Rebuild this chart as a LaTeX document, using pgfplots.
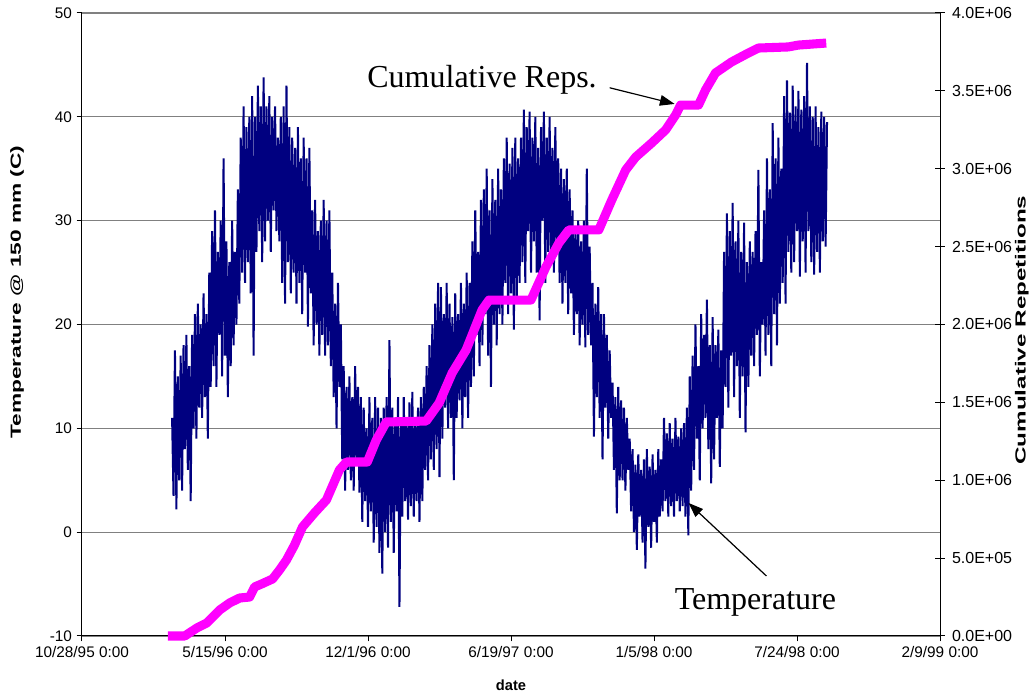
\documentclass[border=0pt]{standalone}
\usepackage{pgfplots}
\pgfplotsset{compat=1.18}
\usepackage{fontspec}
\setmainfont{Liberation Serif}
\setsansfont{Liberation Sans}
\usetikzlibrary{arrows.meta}
\definecolor{navyline}{RGB}{0,0,128}
\definecolor{repmag}{RGB}{255,0,255}
\definecolor{gridgray}{RGB}{128,128,128}
\begin{document}
\begin{tikzpicture}
\path[use as bounding box] (-61.5pt,-46.5pt) rectangle (715.5pt,477pt);
\begin{axis}[
  scale only axis, width=643.5pt, height=467.25pt,
  at={(0,0)}, anchor=south west,
  xmin=0, xmax=1200, ymin=-10, ymax=50,
  axis x line*=bottom, axis y line*=left,
  axis line style={black, line width=0.75pt},
  xtick={0,200,400,600,800,1000,1200},
  xticklabels={10/28/95 0:00,5/15/96 0:00,12/1/96 0:00,6/19/97 0:00,1/5/98 0:00,7/24/98 0:00,2/9/99 0:00},
  ytick={-10,0,10,20,30,40,50},
  yticklabels={-10,0,10,20,30,40,50},
  ymajorgrids, grid style={gridgray, line width=0.9pt},
  tick align=outside, major tick length=4pt,
  tick style={black, line width=0.75pt},
  ticklabel style={font=\sffamily\fontsize{11.5}{13}\selectfont},
  xlabel={date},
  xlabel style={font=\sffamily\bfseries\fontsize{11}{13}\selectfont, at={(axis description cs:0.5,-0.0787)}, anchor=center},
  ylabel={\scalebox{1.55}[1]{Temperature @ 150 mm (C)}},
  ylabel style={font=\sffamily\bfseries\fontsize{11}{13}\selectfont, at={(axis description cs:-0.0756,0.552)}, anchor=center},
]
\addplot[navyline, line width=1.5pt, line join=miter, miter limit=2] coordinates {
(126,11)(128,3.5)(130,17.5)(132,2.2)(134,15)(136,5)(138,17)
(140,4)(142,18)(144,8)(146,19)(148,6)(150,16)(152,3)
(154,19)(156,10)(158,21)(160,9)(162,22)(164,12)(166,20)
(168,11)(170,23)(172,13)(174,21)(176,9)(178,25)(180,14)
(182,29)(184,16)(186,31)(188,14)(190,27)(192,19)(194,30)
(196,15)(198,36)(200,17)(202,28)(204,13)(206,26)(208,16)
(210,30)(212,18)(214,27)(216,20)(218,33)(220,22)(222,38)
(224,25)(226,41)(228,24)(230,39)(232,26)(234,40)(236,23)
(238,42)(240,17)(242,40)(244,27)(246,43)(248,29)(250,41)
(252,26)(254,43.8)(256,28)(258,41)(260,30)(262,42)(264,27)
(266,40)(268,31)(270,41)(272,29)(274,38)(276,28)(278,40)
(280,24)(282,41)(284,22)(286,43)(288,26)(290,39)(292,23)
(294,38)(296,25)(298,37)(300,22)(302,39)(304,24)(306,36)
(308,21)(310,38)(312,25)(314,36)(316,19.8)(318,37)(320,23)
(322,31)(324,18)(326,32)(328,20)(330,29)(332,17)(334,30)
(336,19)(338,32)(340,17)(342,30)(344,18)(346,31)(348,16)
(350,25)(352,13)(354,22)(356,10)(358,24)(360,14)(362,20)
(364,7)(366,16)(368,4)(370,14)(372,6)(374,15)(376,5)
(378,13)(380,4)(382,16)(384,7)(386,14)(388,3.8)(390,13)
(392,1)(394,12)(396,3)(398,10)(400,0.5)(402,13)(404,2)
(406,11)(408,-1)(410,13)(412,0.5)(414,12)(416,-2)(418,11)
(420,-4)(422,12)(424,0)(426,13)(428,-1.5)(430,18.5)(432,1)
(434,12)(436,-2)(438,11)(440,2)(442,13)(444,-7.2)(446,11)
(448,1.5)(450,13)(452,3)(454,11)(456,1.2)(458,12.5)(460,2.5)
(462,13.5)(464,1.5)(466,11)(468,3)(470,12)(472,1)(474,13)
(476,3)(478,14)(480,6)(482,16)(484,5)(486,18)(488,7)
(490,20)(492,6)(494,22)(496,8)(498,24)(500,5.3)(502,23.6)
(504,9)(506,21)(508,12)(510,24)(512,10)(514,22)(516,11)
(518,20.7)(520,5)(522,23)(524,11)(526,21)(528,12.7)(530,24)
(532,10)(534,22)(536,13)(538,25)(540,11)(542,24)(544,14)
(546,28)(548,15)(550,31)(552,19)(554,27)(556,16)(558,32)
(560,18)(562,33)(564,21)(566,35)(568,17)(570,31)(572,14)
(574,34)(576,20)(578,32)(580,18)(582,35)(584,21)(586,33)
(588,20)(590,36)(592,24)(594,38)(596,21)(598,35.5)(600,23)
(602,37)(604,19.5)(606,38)(608,22)(610,36)(612,24)(614,38)
(616,26)(618,40.7)(620,24)(622,39)(624,29)(626,40.5)(628,25)
(630,38)(632,28)(634,40)(636,25)(638,37)(640,20.4)(642,39)
(644,30)(646,40.5)(648,24)(650,38)(652,27)(654,40)(656,26)
(658,37)(660,25)(662,39)(664,28)(666,36)(668,24)(670,35)
(672,22)(674,34)(676,24)(678,35)(680,21)(682,33)(684,23)
(686,31)(688,19)(690,29)(692,21)(694,30)(696,18)(698,28)
(700,20)(702,30)(704,17.8)(706,35)(708,19)(710,27.5)(712,18)
(714,24)(716,9.2)(718,22)(720,13)(722,23.6)(724,11)(726,21)
(728,7)(730,21)(732,12)(734,19)(736,9)(738,17.5)(740,11)
(742,14.4)(744,6)(746,13)(748,1.8)(750,14)(752,5)(754,12.7)
(756,5)(758,12)(760,4)(762,11)(764,6)(766,9)(768,2)
(770,8)(772,0)(774,6.5)(776,-1.7)(778,7.5)(780,1.5)(782,6)
(784,-1)(786,7)(788,-3.5)(790,8)(792,0.5)(794,6.3)(796,-1.5)
(798,7.5)(800,1)(802,6)(804,-1)(806,8)(808,1.5)(810,7)
(812,2)(814,11)(816,3)(818,9.5)(820,1.5)(822,10.5)(824,2.5)
(826,9)(828,1.5)(830,11)(832,3)(834,9.2)(836,2)(838,10)
(840,2.5)(842,10.5)(844,1.5)(846,12)(848,-0.3)(850,15)(852,4)
(854,17)(856,6)(858,20)(860,9)(862,16)(864,5)(866,21)
(868,10)(870,19)(872,11)(874,22.4)(876,8)(878,18)(880,4.7)
(882,20.7)(884,7)(886,18)(888,11)(890,19.5)(892,6.3)(894,17.5)
(896,10)(898,27)(900,14)(902,30.7)(904,12)(906,29)(908,17)
(910,31.7)(912,13)(914,28)(916,16)(918,30)(920,11)(922,27)
(924,15)(926,29.8)(928,9.6)(930,26)(932,14)(934,28)(936,17)
(938,27)(940,16)(942,29)(944,19)(946,34.9)(948,15)(950,26)
(952,20)(954,31)(956,17)(958,36)(960,19)(962,33)(964,16)
(966,39.4)(968,21)(970,36)(972,18)(974,38)(976,22)(978,35)
(980,24)(982,42)(984,22)(986,43.5)(988,27)(990,40.4)(992,25)
(994,43)(996,26)(998,41)(1000,29)(1002,42.5)(1004,24.6)(1006,40.7)
(1008,28)(1010,42)(1012,25)(1014,45.2)(1016,29)(1018,41)(1020,26)
(1022,40)(1024,24.8)(1026,41)(1028,27)(1030,39)(1032,25)(1034,40.5)
(1036,28)(1038,40)(1040,27.5)(1042,39.5)
};
\node[font=\fontsize{24}{28}\selectfont, anchor=center] at (axis cs:559.5,43.55) {Cumulative Reps.};
\draw[-{Triangle[length=11pt,width=8pt]}, line width=0.9pt] (axis cs:738,42.8) -- (axis cs:828.8,41.24);
\node[font=\fontsize{24}{28}\selectfont, anchor=center] at (axis cs:941.8,-6.73) {Temperature};
\draw[-{Triangle[length=11pt,width=8pt]}, line width=0.9pt] (axis cs:957.2,-4.22) -- (axis cs:848.3,2.81);
\end{axis}
\begin{axis}[
  scale only axis, width=643.5pt, height=467.25pt,
  at={(0,0)}, anchor=south west,
  xmin=0, xmax=1200, ymin=0, ymax=4000000,
  axis x line=none, axis y line*=right,
  axis line style={black, line width=0.75pt},
  ytick={0,500000,1000000,1500000,2000000,2500000,3000000,3500000,4000000},
  yticklabels={0.0E+00,5.0E+05,1.0E+06,1.5E+06,2.0E+06,2.5E+06,3.0E+06,3.5E+06,4.0E+06},
  scaled y ticks=false,
  tick align=center, major tick length=7pt,
  tick style={black, line width=0.75pt},
  ticklabel style={font=\sffamily\fontsize{12}{14}\selectfont},
  yticklabel style={xshift=2pt},
  clip=false,
  ylabel={\scalebox{1.65}[1]{Cumulative Repetitions}},
  ylabel style={font=\sffamily\bfseries\fontsize{11}{13}\selectfont, at={(axis description cs:1.0953,0.491)}, anchor=center},
]
\addplot[repmag, line width=6.8pt, line join=round] coordinates {
(120,0)(143.7,0)(160.5,51000)(174.4,83000)(192.6,167000)(206.5,212000)(220.5,244000)(234.4,250000)(241.4,315000)(251.2,334000)(266.5,366000)(276.3,424000)(286,488000)(297.2,584000)(308.4,700000)(325.1,790000)(341.8,873000)(360,1066000)(369.8,1117000)(399,1117000)(411.6,1258000)(425.6,1374000)(481.4,1380000)(499.5,1496000)(517.7,1689000)(537.2,1836000)(559.5,2093000)(569.3,2157000)(627.9,2157000)(648.8,2369000)(667,2523000)(680.9,2607000)(722.8,2607000)(740.9,2799000)(760.4,2992000)(774.4,3075000)(796.7,3165000)(816.2,3249000)(830.2,3345000)(837.2,3409000)(862.3,3409000)(872,3505000)(886,3615000)(908.3,3685000)(932,3743000)(946,3775000)(987.9,3782000)(1001.8,3794000)(1040.9,3807000)
};
\end{axis}
\end{tikzpicture}
\end{document}
